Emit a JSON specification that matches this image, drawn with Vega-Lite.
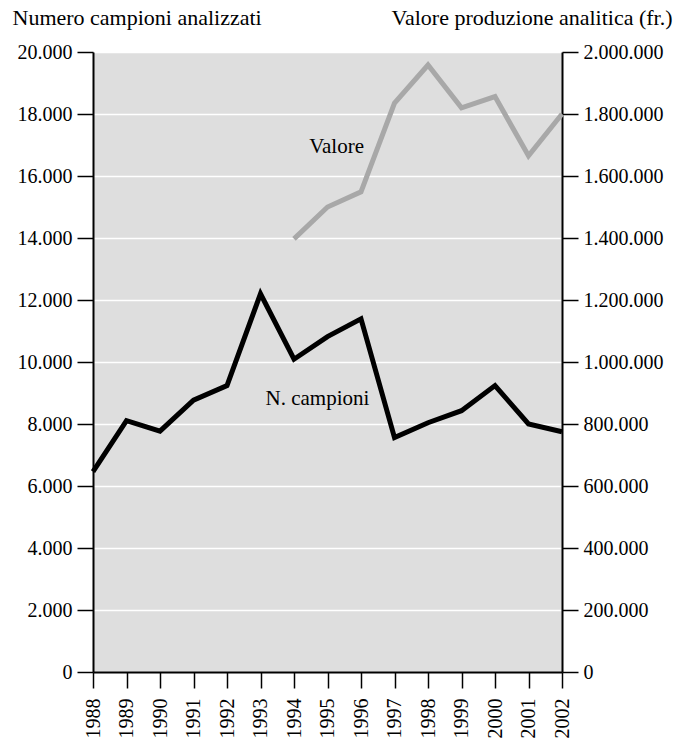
{
  "$schema": "https://vega.github.io/schema/vega-lite/v6.json",
  "autosize": {"type": "none"},
  "padding": {"left": 93, "top": 52, "right": 123, "bottom": 70},
  "width": 469,
  "height": 620,
  "background": "white",
  "data": {
    "values": [
      {"anno": 1988, "campioni": 6460, "valore": null},
      {"anno": 1989, "campioni": 8110, "valore": null},
      {"anno": 1990, "campioni": 7770, "valore": null},
      {"anno": 1991, "campioni": 8770, "valore": null},
      {"anno": 1992, "campioni": 9240, "valore": null},
      {"anno": 1993, "campioni": 12200, "valore": null},
      {"anno": 1994, "campioni": 10090, "valore": 1397000},
      {"anno": 1995, "campioni": 10820, "valore": 1500000},
      {"anno": 1996, "campioni": 11390, "valore": 1549000},
      {"anno": 1997, "campioni": 7560, "valore": 1835000},
      {"anno": 1998, "campioni": 8040, "valore": 1958000},
      {"anno": 1999, "campioni": 8430, "valore": 1820000},
      {"anno": 2000, "campioni": 9240, "valore": 1856000},
      {"anno": 2001, "campioni": 8000, "valore": 1665000},
      {"anno": 2002, "campioni": 7750, "valore": 1800000}
    ]
  },
  "encoding": {
    "x": {
      "field": "anno",
      "type": "quantitative",
      "scale": {"domain": [1988, 2002], "nice": false, "zero": false},
      "axis": {
        "title": null,
        "values": [1988, 1989, 1990, 1991, 1992, 1993, 1994, 1995, 1996, 1997, 1998, 1999, 2000, 2001, 2002],
        "format": "d",
        "labelAngle": 270,
        "labelAlign": "right",
        "labelBaseline": "middle",
        "labelPadding": 10,
        "grid": false,
        "labelFlush": false,
        "labelOverlap": false
      }
    }
  },
  "layer": [
    {
      "encoding": {
        "y": {
          "field": "campioni",
          "type": "quantitative",
          "scale": {"domain": [0, 20000], "nice": false},
          "axis": {
            "orient": "left",
            "title": "Numero campioni analizzati",
            "titleAngle": 0,
            "titleAlign": "left",
            "titleBaseline": "alphabetic",
            "titleX": -81,
            "titleY": -28,
            "values": [0, 2000, 4000, 6000, 8000, 10000, 12000, 14000, 16000, 18000, 20000],
            "labelExpr": "replace(format(datum.value, ','), /,/g, '.')",
            "grid": true,
            "gridColor": "white",
            "gridWidth": 1.5,
            "gridOpacity": 1
          }
        }
      },
      "layer": [
        {
          "mark": {"type": "line", "color": "black", "strokeWidth": 5}
        },
        {
          "data": {
            "values": [
              {"anno": 1995.27, "campioni": 16950, "testo": "Valore"},
              {"anno": 1994.7, "campioni": 8800, "testo": "N. campioni"}
            ]
          },
          "mark": {
            "type": "text",
            "font": "Liberation Serif",
            "fontSize": 21,
            "color": "black",
            "align": "center",
            "baseline": "middle"
          },
          "encoding": {"text": {"field": "testo"}}
        }
      ]
    },
    {
      "transform": [{"filter": "datum.valore != null"}],
      "mark": {"type": "line", "color": "#a8a8a8", "strokeWidth": 5},
      "encoding": {
        "y": {
          "field": "valore",
          "type": "quantitative",
          "scale": {"domain": [0, 2000000], "nice": false},
          "axis": {
            "orient": "right",
            "title": "Valore produzione analitica (fr.)",
            "titleAngle": 0,
            "titleAlign": "right",
            "titleBaseline": "alphabetic",
            "titleX": 110,
            "titleY": -28,
            "values": [0, 200000, 400000, 600000, 800000, 1000000, 1200000, 1400000, 1600000, 1800000, 2000000],
            "labelExpr": "replace(format(datum.value, ','), /,/g, '.')",
            "grid": false
          }
        }
      }
    }
  ],
  "resolve": {"scale": {"y": "independent"}},
  "config": {
    "view": {"fill": "#dedede", "stroke": null},
    "font": "Liberation Serif",
    "axis": {
      "domainColor": "black",
      "domainWidth": 2,
      "tickColor": "black",
      "tickWidth": 1.5,
      "tickSize": 16,
      "labelPadding": 5,
      "labelFont": "Liberation Serif",
      "labelFontSize": 20,
      "labelColor": "black",
      "titleFont": "Liberation Serif",
      "titleFontSize": 22,
      "titleFontWeight": "normal",
      "titleColor": "black"
    }
  }
}
